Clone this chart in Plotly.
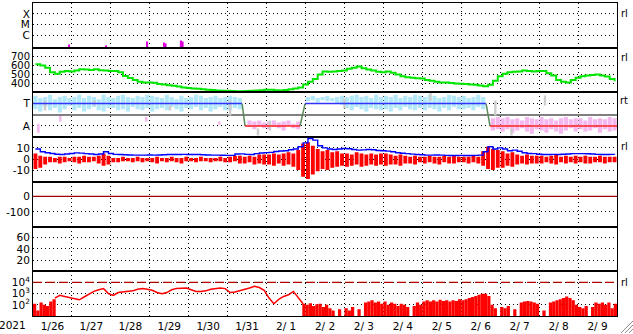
import pandas as pd
import plotly.graph_objects as go
from plotly.subplots import make_subplots

START = pd.Timestamp("2021-01-26")
END = pd.Timestamp("2021-02-10")
HOUR_MS = 3600 * 1000


def at(hours):
    return [START + pd.Timedelta(hours=h) for h in hours]


# ---------------- data ----------------
# 3-hour bins, centre hours from 1/26 00:00
bin_hours = [1.5 + 3 * k for k in range(120)]

# X-ray flares (class units: C=1, M=2, X=3)
flare_hours = [22.2, 45.0, 70.3, 80.8, 81.7, 91.2, 92.2]
flare_level = [0.17, 0.08, 0.45, 0.36, 0.27, 0.54, 0.45]
FLARE_BASE = -0.12

# solar wind speed (km/s)
speed = [
    615, 600, 575, 525, 510, 530, 540, 535,
    545, 560, 555, 550, 560, 548, 545, 540,
    540, 525, 485, 460, 438, 420, 412, 410,
    408, 395, 390, 380, 375, 365, 355, 350,
    345, 340, 335, 330, 328, 322, 320, 318,
    315, 312, 312, 315, 320, 322, 325, 330,
    330, 325, 322, 328, 335, 345, 355, 390,
    420, 450, 500, 535, 530, 535, 540, 545,
    565, 575, 590, 570, 555, 545, 530, 525,
    535, 520, 500, 480, 470, 465, 458, 455,
    440, 430, 420, 412, 410, 405, 400, 398,
    395, 390, 385, 378, 370, 385, 430, 480,
    510, 525, 530, 535, 545, 540, 535, 540,
    540, 515, 490, 440, 420, 412, 440, 465,
    480, 490, 495, 500, 490, 478, 450, 425,
]

# IMF sector polarity (T = 1, A = -1)
sector_hours = [0, 128.9, 130.7, 164.6, 167.7, 279.3, 281.7, 360]
sector_pol = [1, 1, -1, -1, 1, 1, -1, -1]

# IMF direction scatter envelope per bin
phi_hi = [
    1.7, 1.5, 1.6, 1.8, 1.4, 1.6, 1.7, 1.5,
    1.6, 1.8, 1.5, 1.7, 1.6, 1.4, 1.8, 1.6,
    1.5, 1.7, 1.8, 1.6, 1.5, 1.7, 1.6, 1.8,
    1.7, 1.6, 1.5, 1.8, 1.6, 1.4, 1.7, 1.5,
    1.6, 1.8, 1.7, 1.5, 1.6, 1.7, 1.5, 1.6,
    1.7, 1.6, 1.5, None, -0.5, -0.6, -0.5, -0.7,
    -0.6, -0.5, -0.7, -0.6, -0.5, -0.8, -0.6, None,
    1.6, 1.7, 1.5, 1.6, 1.7, 1.5, 1.6, 1.7,
    1.6, 1.7, 1.8, 1.6, 1.7, 1.5, 1.8, 1.6,
    1.7, 1.6, 1.8, 1.5, 1.7, 1.6, 1.8, 1.7,
    1.6, 1.8, 1.7, 1.5, 1.6, 1.8, 1.7, 1.6,
    1.7, 1.5, 1.6, 1.8, 1.6, None, -0.3, -0.2,
    -0.3, -0.2, -0.4, -0.3, -0.5, -0.2, -0.3, -0.4,
    -0.2, -0.4, -0.3, -0.5, -0.3, -0.2, -0.4, -0.3,
    -0.3, -0.5, -0.2, -0.4, -0.3, -0.4, -0.2, -0.3,
]
phi_lo = [
    0.5, 0.3, 0.7, 0.4, 0.6, 0.2, 0.5, 0.8,
    0.4, 0.6, 0.3, 0.5, 0.7, 0.4, 0.3, 0.6,
    0.6, 0.4, 0.5, 0.3, 0.7, 0.5, 0.4, 0.6,
    0.3, 0.5, 0.6, 0.4, 0.7, 0.5, 0.3, 0.6,
    0.5, 0.7, 0.4, 0.6, 0.3, 0.5, 0.7, 0.4,
    0.4, 0.6, 0.5, None, -1.1, -1.3, -1.0, -1.2,
    -1.3, -1.1, -1.2, -1.4, -1.0, -1.2, -1.3, None,
    1.2, 1.3, 1.1, 1.3, 1.2, 1.2, 1.0, 0.9,
    0.6, 0.4, 0.7, 0.5, 0.3, 0.6, 0.5, 0.4,
    0.5, 0.3, 0.6, 0.4, 0.7, 0.5, 0.4, 0.6,
    0.4, 0.6, 0.5, 0.3, 0.6, 0.4, 0.7, 0.5,
    0.5, 0.6, 0.4, 0.7, 0.5, None, -1.4, -1.3,
    -1.5, -1.3, -1.6, -1.4, -1.2, -1.5, -1.7, -1.3,
    -1.4, -1.6, -1.3, -1.5, -1.7, -1.4, -1.2, -1.5,
    -1.3, -1.5, -1.4, -1.2, -1.6, -1.3, -1.5, -1.4,
]
gray_hours = [7.4, 38, 84.5, 121.5, 138.7, 146, 192, 245, 285, 295, 315.6]
gray_hi = [1.28, 1.28, 0.83, 1.28, -1.22, -0.5, 1.46, 1.95, 1.28, -1.22, 1.72]
gray_lo = [0.38, 0.83, 0.38, -0.06, -1.85, -1.4, 0.56, 1.28, -0.06, -1.85, 0.83]
pink_hours = [3.5, 17, 70, 115]
pink_hi = [-0.8, -0.1, -0.2, -0.6]
pink_lo = [-1.6, -0.6, -0.6, -0.9]

# IMF magnitude Bt and Bz envelope (nT)
bt = [
    9, 6.5, 5.6, 5, 4.3, 4.1, 4.5, 5,
    5.5, 5.3, 4.8, 4.5, 4.1, 4.5, 6.5, 5,
    4.2, 4, 3.8, 3.6, 3.5, 3.5, 3.5, 3.6,
    3.5, 3.6, 3.8, 4, 4.1, 4.1, 4.2, 4.1,
    4.1, 4, 3.8, 3.6, 3.5, 3.5, 3.4, 3.3,
    3.3, 4.5, 4.6, 4.2, 4.1, 4.8, 5.4, 5.7,
    6, 6.8, 7.2, 7.5, 8.3, 9, 11, 14.5,
    18.5, 17, 12, 10, 9, 8.6, 9, 9.5,
    9.3, 8.5, 8, 8.2, 8.6, 8.4, 7.7, 7.4,
    7.1, 6.5, 5.6, 5.2, 4.8, 4.4, 4.1, 3.8,
    3.5, 3.5, 3.6, 3.5, 3.3, 3.2, 3.2, 3.3,
    3.2, 3.2, 3.3, 3.5, 6.5, 11, 9, 10,
    9, 7.5, 8, 7, 5.6, 5, 4.8, 4.3,
    4.1, 4.1, 4.2, 4.1, 4.3, 4.5, 4.8, 4.8,
    4.8, 4.7, 4.5, 4.2, 4.1, 4.1, 4.2, 4.1,
]
bz_hi = [
    5, 3, 2, 2, 1, 2, 2, 1,
    2, 2, 3, 2, 2, 3, 5, 3,
    1, 1, 2, 1, 1, 2, 1, 1,
    1, 2, 1, 1, 2, 1, 1, 2,
    1, 1, 2, 1, 1, 1, 2, 1,
    2, 3, 3, 2, 3, 2, 4, 4,
    4, 5, 4, 5, 6, 5, 8, 14,
    15, 12, 9, 7, 8, 6, 7, 5,
    5, 4, 6, 5, 4, 5, 4, 5,
    5, 4, 3, 4, 3, 2, 3, 2,
    2, 3, 2, 2, 3, 2, 3, 2,
    2, 2, 3, 2, 7, 11, 9, 8,
    7, 5, 6, 4, 3, 4, 3, 3,
    3, 2, 3, 4, 2, 3, 2, 3,
    2, 3, 2, 2, 3, 2, 2, 2,
]
bz_lo = [
    -9, -8, -5, -3, -3, -4, -3, -2,
    -3, -4, -3, -3, -2, -4, -6, -5,
    -3, -3, -2, -2, -3, -2, -3, -2,
    -3, -4, -2, -3, -2, -3, -4, -2,
    -2, -3, -2, -2, -3, -2, -2, -3,
    -3, -2, -4, -4, -3, -5, -4, -5,
    -5, -6, -4, -6, -5, -7, -10, -16,
    -18, -14, -11, -9, -10, -8, -7, -6,
    -7, -6, -5, -7, -6, -5, -6, -5,
    -6, -5, -5, -6, -4, -4, -5, -3,
    -4, -3, -4, -5, -3, -4, -4, -3,
    -3, -4, -3, -4, -6, -9, -10, -8,
    -8, -6, -7, -5, -4, -5, -4, -4,
    -4, -3, -4, -5, -3, -4, -3, -4,
    -3, -4, -4, -3, -3, -4, -3, -3,
]

DST_REF = 0
kp = [None] * len(bin_hours)   # no Kp data shown in the panel

# electron flux, log10 units
FLUX_ALERT = 4
flux_burst_hours = [1, 3, 5, 7, 9, 11, 13]
flux_burst = [2.1, 1.5, 2.2, 2.0, 1.9, 2.3, 2.5]
flux_smooth = [
    2.6, 2.85, 2.75, 2.65, 2.55, 2.45, 2.7, 2.95, 3.2, 3.35,
    3.45, 3.0, 2.85, 3.1, 3.15, 3.2, 3.25, 3.4, 3.45, 3.4,
    3.3, 3.1, 3.0, 3.1, 3.35, 3.47, 3.5, 3.5, 3.35, 3.2,
    3.2, 3.25, 3.4, 3.45, 3.5, 3.45, 3.1, 3.15, 3.25, 3.35,
    3.5, 3.65, 3.55, 3.3, 2.6, 2.1, 2.5, 2.75, 2.9, 3.2,
    2.6, 2.1,
]
flux_smooth_hours = [13.5 + 3 * k for k in range(len(flux_smooth))]
flux_spiky = [
    2.1, 2.0, 2.15, 1.9, 2.05, 2.1, 1.8, 2.0, 1.7, 1.5,
    0.5, 1.6, 0.5, 1.7, 1.5, 1.8, 0.5, 1.6, 0.5, 2.2,
    2.3, 2.4, 2.2, 2.3, 2.1, 2.3, 2.0, 2.2, 2.1, 1.9,
    2.1, 2.0, 1.8, 0.5, 1.9, 2.2, 2.0, 2.3, 2.4, 2.3,
    2.4, 2.3, 2.45, 2.35, 2.4, 2.3, 2.4, 2.35, 2.5, 2.4,
    2.5, 2.6, 2.7, 2.8, 2.9, 3.0, 3.0, 2.8, 2.0, 1.7,
    0.5, 1.8, 1.7, 1.9, 0.5, 1.6, 0.5, 2.2, 2.3, 2.35,
    2.3, 2.2, 2.1, 0.5, 1.5, 0.5, 2.2, 2.3, 2.4, 2.5,
    2.6, 2.75, 2.6, 2.4, 2.0, 1.8, 1.7, 1.9, 0.5, 1.8,
    2.2, 2.1, 2.2, 2.0, 2.2, 1.7, 2.1,
]
flux_spiky_hours = [167 + 2 * i for i in range(len(flux_spiky))]

# ---------------- figure ----------------
W, H = 633, 334
ML, MR, MT, MB = 33, 16, 2, 17
PW, PH = W - ML - MR, H - MT - MB
FONT = "DejaVu Sans, Verdana, sans-serif"


def px(x):
    return (x - ML) / PW


def py(y):
    return (H - MB - y) / PH


fig = make_subplots(rows=7, cols=1, shared_xaxes=True, vertical_spacing=0)

# row 1 flares
fig.add_trace(go.Bar(x=at(flare_hours), y=[v - FLARE_BASE for v in flare_level],
                     base=FLARE_BASE, width=1.3 * HOUR_MS,
                     marker=dict(color="#dd00dd", line_width=0)), row=1, col=1)

# row 2 speed
fig.add_trace(go.Scatter(x=at(bin_hours), y=speed, mode="lines",
                         line=dict(color="#00e600", width=2, shape="hv")), row=2, col=1)

# row 3 IMF direction
ph_x, ph_y, ph_b, ph_c = [], [], [], []
for h, hi, lo in zip(bin_hours, phi_hi, phi_lo):
    if hi is None:
        continue
    ph_x.append(h)
    ph_y.append(hi - lo)
    ph_b.append(lo)
    ph_c.append("#b2e8f8" if hi > 0 else "#f4b8ef")
fig.add_trace(go.Bar(x=at(ph_x), y=ph_y, base=ph_b, width=2.6 * HOUR_MS,
                     marker=dict(color=ph_c, line_width=0)), row=3, col=1)
fig.add_trace(go.Bar(x=at(gray_hours), y=[a - b for a, b in zip(gray_hi, gray_lo)],
                     base=gray_lo, width=1.5 * HOUR_MS,
                     marker=dict(color="#cdcdcd", line_width=0)), row=3, col=1)
fig.add_trace(go.Bar(x=at(pink_hours), y=[a - b for a, b in zip(pink_hi, pink_lo)],
                     base=pink_lo, width=1.2 * HOUR_MS,
                     marker=dict(color="#f4b8ef", line_width=0)), row=3, col=1)
for i in range(len(sector_hours) - 1):
    p0, p1 = sector_pol[i], sector_pol[i + 1]
    if p0 == p1:
        col = "#3333ff" if p0 > 0 else "#ff2222"
    else:
        col = "#5a8a5a"
    fig.add_trace(go.Scatter(x=at(sector_hours[i:i + 2]), y=sector_pol[i:i + 2],
                             mode="lines", line=dict(color=col, width=1.5)),
                  row=3, col=1)

# row 4 IMF: Bz range per bin as thin red spikes, Bt on top
fig.add_trace(go.Bar(x=at(bin_hours), y=[a - b for a, b in zip(bz_hi, bz_lo)],
                     base=bz_lo, width=2.4 * HOUR_MS,
                     marker=dict(color="#ff0000", line_width=0)), row=4, col=1)
fig.add_trace(go.Scatter(x=at(bin_hours), y=bt, mode="lines",
                         line=dict(color="#0000ff", width=1.4, shape="hv")), row=4, col=1)

# row 5 Dst reference level
fig.add_trace(go.Scatter(x=[START, END], y=[DST_REF, DST_REF], mode="lines",
                         line=dict(color="#a00000", width=1.3)), row=5, col=1)
# row 6 Kp (empty)
fig.add_trace(go.Scatter(x=at(bin_hours), y=kp, mode="lines",
                         line=dict(color="#ff0000", width=1)), row=6, col=1)

# row 7 electron flux
fig.add_trace(go.Bar(x=at(flux_burst_hours), y=flux_burst, width=2 * HOUR_MS,
                     marker=dict(color="#ff0000", line_width=0)), row=7, col=1)
fig.add_trace(go.Bar(x=at(flux_spiky_hours), y=flux_spiky, width=2 * HOUR_MS,
                     marker=dict(color="#ff0000", line_width=0)), row=7, col=1)
fig.add_trace(go.Scatter(x=at(flux_smooth_hours), y=flux_smooth, mode="lines",
                         line=dict(color="#ff0000", width=1.5)), row=7, col=1)
fig.add_trace(go.Scatter(x=[START, END], y=[FLUX_ALERT, FLUX_ALERT], mode="lines",
                         line=dict(color="#b00000", width=1.3, dash="9px,4px")),
              row=7, col=1)

DOT = "1px,3px"
fig.update_xaxes(type="date", range=[START, END], dtick=86400000, tick0=START,
                 ticklabelmode="period", tickformat="%-m/%e",
                 showgrid=True, gridcolor="black", gridwidth=1, griddash=DOT,
                 showline=True, mirror=True, linecolor="black", linewidth=1,
                 ticks="", zeroline=False, showticklabels=False)
fig.update_xaxes(showticklabels=True, row=7, col=1)

fig.update_yaxes(showgrid=True, gridcolor="black", gridwidth=1, griddash=DOT,
                 showline=True, mirror=True, linecolor="black", linewidth=1,
                 ticks="", zeroline=False, fixedrange=True)

yconf = {
    1: dict(range=[FLARE_BASE, 4.0], tickvals=[1, 2, 3], ticktext=["C", "M", "X"]),
    2: dict(range=[300, 800], tickvals=[400, 500, 600, 700],
            ticktext=["400", "500", "600", "700"], tickfont=dict(size=10)),
    3: dict(range=[-2, 2], tickvals=[-1, 1], ticktext=["A", "T"],
            zeroline=True, zerolinecolor="#808080", zerolinewidth=1.5),
    4: dict(range=[-20.6, 19.7], tickvals=[-10, 0, 10], ticktext=["-10", "0", "10"]),
    5: dict(range=[-194, 94], tickvals=[-100, DST_REF], ticktext=["-100", "0"]),
    6: dict(range=[0, 80], tickvals=[20, 40, 60], ticktext=["20", "40", "60"]),
    7: dict(range=[1, 5], tickvals=[2, 3, 4],
            ticktext=["10<sup>2</sup>", "10<sup>3</sup>", "10<sup>4</sup>"]),
}
for r, c in yconf.items():
    fig.update_yaxes(row=r, col=1, **c)

annotations = [dict(text="2021", x=px(12), y=py(326), xref="paper", yref="paper",
                    showarrow=False, xanchor="center", yanchor="middle")]
for ylab, txt in [(13, "rl"), (57, "rl"), (100, "rt"), (146, "rl"), (283, "rl")]:
    annotations.append(dict(text=txt, x=px(624), y=py(ylab), xref="paper", yref="paper",
                            showarrow=False, xanchor="center", yanchor="middle",
                            font=dict(size=10)))

shapes = []
for x0, y1 in [(621, 322), (625, 326), (629, 330)]:
    shapes.append(dict(type="line", xref="paper", yref="paper",
                       x0=px(x0), y0=py(334), x1=px(633), y1=py(y1),
                       line=dict(color="#8a8a8a", width=1)))

fig.update_layout(
    width=W, height=H,
    margin=dict(l=ML, r=MR, t=MT, b=MB, pad=0),
    paper_bgcolor="white", plot_bgcolor="white",
    showlegend=False, barmode="overlay",
    font=dict(family=FONT, size=10.5, color="black"),
    annotations=annotations, shapes=shapes,
)

fig.write_html("out.html")
